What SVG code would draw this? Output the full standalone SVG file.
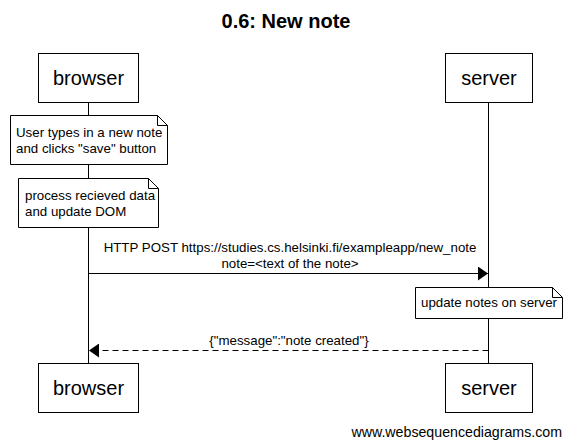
<svg xmlns="http://www.w3.org/2000/svg" width="571" height="447" viewBox="0 0 571 447">
<style>
text{font-family:"Liberation Sans",Arial,sans-serif;fill:#000}
.actor rect{fill:#fff;stroke:#000;stroke-width:1}
.actor text{font-size:20px;text-anchor:middle}
.note path{fill:#fff;stroke:#000;stroke-width:1}
.note text{font-size:13.3px}
.life{stroke:#000;stroke-width:1}
.msg{stroke:#000;stroke-width:1;fill:none}
.lbl{font-size:13.3px;text-anchor:middle}
</style>
<defs>
<marker id="ah" viewBox="0 0 10 14" refX="10" refY="7" markerWidth="10" markerHeight="14" markerUnits="userSpaceOnUse" orient="auto">
<path d="M0,0 L10,7 L0,14 Z" fill="#000"/>
</marker>
</defs>
<rect width="571" height="447" fill="#fff"/>
<text x="286" y="28" font-size="20" font-weight="bold" text-anchor="middle">0.6: New note</text>
<g id="lifelines">
<line class="life" x1="88.5" y1="102" x2="88.5" y2="363"/>
<line class="life" x1="488.5" y1="102" x2="488.5" y2="363"/>
</g>
<g id="browser-top" class="actor">
<rect x="38.5" y="53.5" width="100" height="49"/>
<text x="88.5" y="85">browser</text>
</g>
<g id="server-top" class="actor">
<rect x="445.5" y="53.5" width="87" height="49"/>
<text x="489" y="85">server</text>
</g>
<g id="browser-bottom" class="actor">
<rect x="38.5" y="363.5" width="100" height="49"/>
<text x="88.5" y="395">browser</text>
</g>
<g id="server-bottom" class="actor">
<rect x="445.5" y="363.5" width="87" height="49"/>
<text x="489" y="395">server</text>
</g>
<g id="note1" class="note">
<path d="M10.5,115.5 H157.5 L167.5,125.5 V164.5 H10.5 Z M157.5,115.5 V125.5 H167.5"/>
<text x="16" y="137">User types in a new note</text>
<text x="16" y="153">and clicks "save" button</text>
</g>
<g id="note2" class="note">
<path d="M18.5,178.5 H148.5 L158.5,188.5 V227.5 H18.5 Z M148.5,178.5 V188.5 H158.5"/>
<text x="25" y="200">process recieved data</text>
<text x="25" y="216">and update DOM</text>
</g>
<g id="note3" class="note">
<path d="M415.5,287.5 H552.5 L562.5,297.5 V318.5 H415.5 Z M552.5,287.5 V297.5 H562.5"/>
<text x="421" y="307">update notes on server</text>
</g>
<g id="connectors">
<line class="msg" x1="88.5" y1="273.5" x2="488" y2="273.5" marker-end="url(#ah)"/>
<text class="lbl" x="290" y="252">HTTP POST https://studies.cs.helsinki.fi/exampleapp/new_note</text>
<text class="lbl" x="290" y="268">note=&lt;text of the note&gt;</text>
<line class="msg" x1="488.5" y1="350.5" x2="89" y2="350.5" stroke-dasharray="6,4" marker-end="url(#ah)"/>
<text class="lbl" x="289" y="345">{"message":"note created"}</text>
</g>
<text x="562" y="437" font-size="14.2" text-anchor="end">www.websequencediagrams.com</text>
</svg>
